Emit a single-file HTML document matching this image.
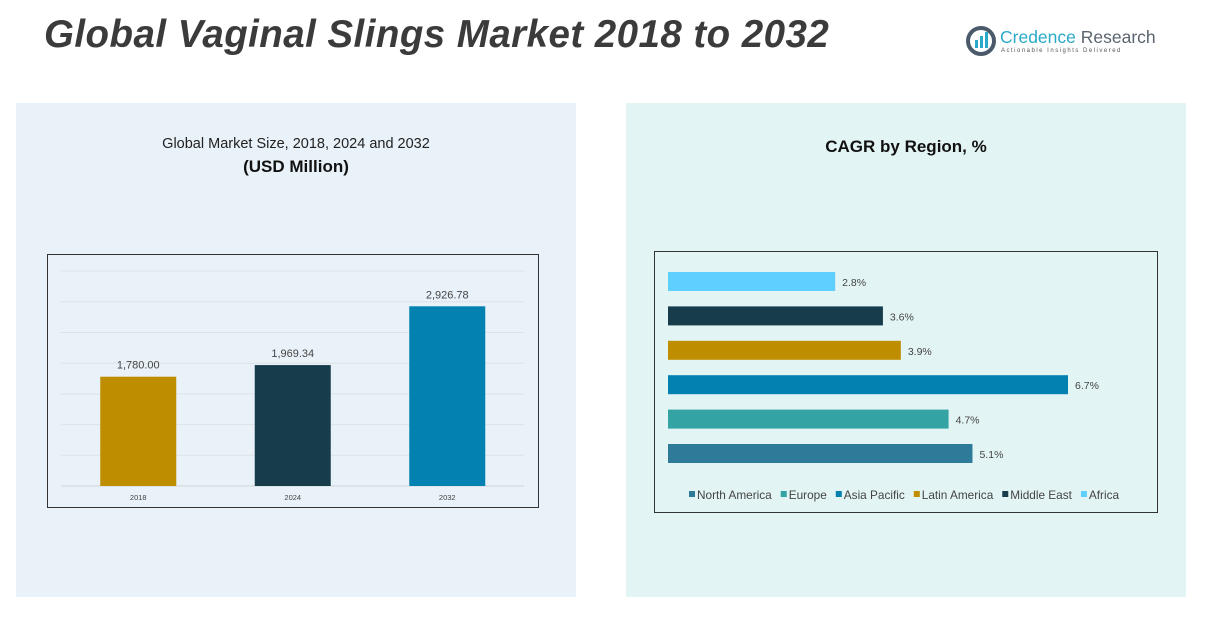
<!DOCTYPE html>
<html><head><meta charset="utf-8"><style>
body{margin:0;width:1207px;height:617px;background:#fff;font-family:"Liberation Sans",sans-serif;position:relative;overflow:hidden}
.abs{position:absolute}
</style></head><body>
<div class="abs" style="left:44px;top:13px;font-size:38.5px;font-weight:bold;font-style:italic;color:#3b3b3b;letter-spacing:0.45px;white-space:nowrap">Global Vaginal Slings Market 2018 to 2032</div>
<div class="abs" style="left:966px;top:24px;width:200px;height:34px">
<svg width="32" height="32" style="position:absolute;left:0;top:2px"><circle cx="15" cy="15" r="13" fill="none" stroke="#4a5a6a" stroke-width="4"/><rect x="9" y="14" width="3" height="8" fill="#2aa9c9"/><rect x="14" y="10" width="3" height="12" fill="#2aa9c9"/><rect x="19" y="6" width="3" height="16" fill="#2aa9c9"/></svg>
<div class="abs" style="left:34px;top:3px;font-size:17.5px;color:#2aa9c9;white-space:nowrap">Credence <span style="color:#5a6570">Research</span></div>
<div class="abs" style="left:35px;top:24px;font-size:6px;color:#555;letter-spacing:1.5px;white-space:nowrap">Actionable Insights Delivered</div>
</div>
<div class="abs" style="left:16px;top:103px;width:560px;height:494px;background:#e9f2f8"></div>
<div class="abs" style="left:626px;top:103px;width:560px;height:494px;background:#e3f4f5"></div>
<div class="abs" style="left:16px;top:136px;width:560px;text-align:center;font-size:14.5px;color:#222">Global Market Size, 2018, 2024 and 2032</div>
<div class="abs" style="left:16px;top:157px;width:560px;text-align:center;font-size:17px;font-weight:bold;color:#111">(USD Million)</div>
<div class="abs" style="left:626px;top:137px;width:560px;text-align:center;font-size:17px;font-weight:bold;color:#111">CAGR by Region, %</div>
<svg class="abs" style="left:0;top:0" width="1207" height="617" id="svg">
<rect x="47.5" y="254.5" width="491" height="253" fill="none" stroke="#333" stroke-width="1"/>
<rect x="654.5" y="251.5" width="503" height="261" fill="none" stroke="#333" stroke-width="1"/>
<g id="left"></g><g id="right"></g>
</svg>
<script>
const years=["2018","2024","2032"];
const marketValues=[1780.00,1969.34,2926.78];
const valueLabels=["1,780.00","1,969.34","2,926.78"];
const yTicks=[0,500,1000,1500,2000,2500,3000,3500];
const regions=["Africa","Middle East","Latin America","Asia Pacific","Europe","North America"];
const cagr=[2.8,3.6,3.9,6.7,4.7,5.1];
const regionColors=["#5ecfff","#173c4c","#bf8e00","#0381b1","#33a3a3","#2e7a99"];
const legendOrder=["North America","Europe","Asia Pacific","Latin America","Middle East","Africa"];
const barColors=["#bf8e00","#173c4c","#0381b1"];
const NS="http://www.w3.org/2000/svg";
function el(t,a,p){const e=document.createElementNS(NS,t);for(const k in a)e.setAttribute(k,a[k]);p.appendChild(e);return e;}
const L=document.getElementById('left');
const y=v=>486-v*0.0614;
const x0=61,cw=154.5;
yTicks.forEach(t=>{const g=el('line',{x1:61,x2:524,y1:y(t),y2:y(t),stroke:t===0?'#cfd6da':'#dde3e6','stroke-width':1},L);

});
years.forEach((yr,i)=>{const cx=x0+cw*(i+0.5);
const r=el('rect',{x:cx-38,y:y(marketValues[i]),width:76,height:486-y(marketValues[i]),fill:barColors[i]},L);


const t=el('text',{x:cx,y:y(marketValues[i])-8,'text-anchor':'middle','font-size':11,fill:'#444'},L);t.textContent=valueLabels[i];


const xl=el('text',{x:cx,y:500,'text-anchor':'middle','font-size':7.5,fill:'#444'},L);xl.textContent=yr;

});
const R=document.getElementById('right');
const bx=v=>668+v*59.7;
regions.forEach((rg,i)=>{const top=272+i*34.4;
const r=el('rect',{x:668,y:top,width:bx(cagr[i])-668,height:19,fill:regionColors[i]},R);


const t=el('text',{x:bx(cagr[i])+7,y:top+14,'font-size':10.5,fill:'#444'},R);t.textContent=cagr[i].toFixed(1)+'%';

});
let lx=689;
legendOrder.forEach(n=>{const c=regionColors[regions.indexOf(n)];
const g=el('g',{},R);


el('rect',{x:lx,y:491,width:6,height:6,fill:c},g);
const t=el('text',{x:lx+8,y:499,'font-size':11.8,fill:'#444'},g);t.textContent=n;
lx+=8+t.getComputedTextLength()+9;});
</script>
</body></html>
